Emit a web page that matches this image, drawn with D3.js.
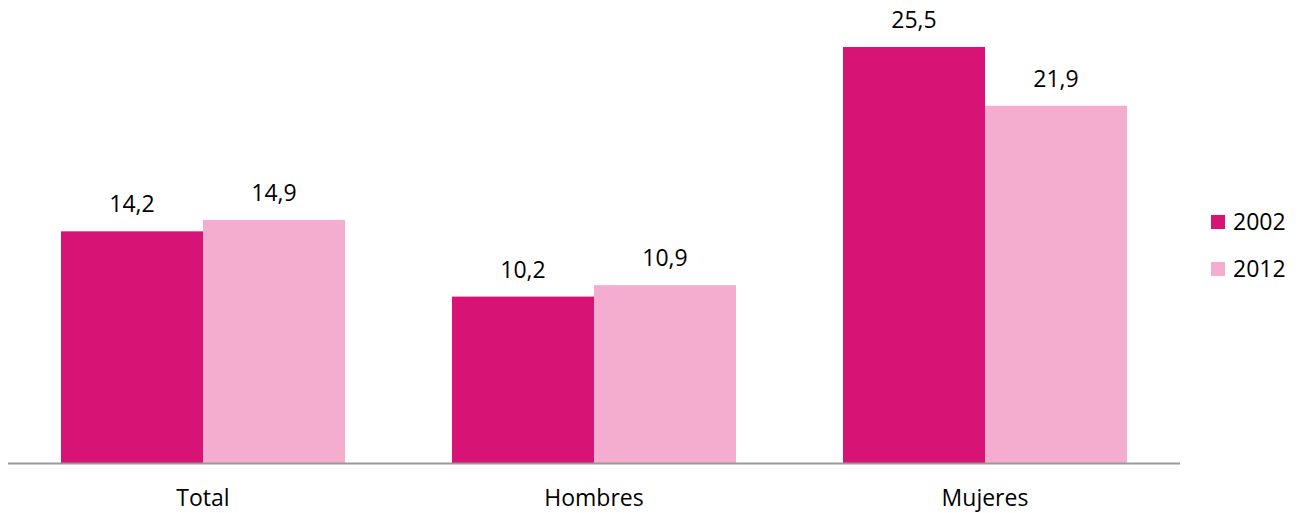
<!DOCTYPE html>
<html>
<head>
<meta charset="utf-8">
<script src="https://cdn.jsdelivr.net/npm/d3@7"></script>
<style>
  body { margin: 0; background: #fff; }
  text { font-family: "Open Sans", sans-serif; fill: #000; }
</style>
</head>
<body>
<div id="chart"></div>
<script>
const categories = ['Total', 'Hombres', 'Mujeres'];
const years = ['2002', '2012'];
const values2002 = [14.2, 10.2, 25.5];
const values2012 = [14.9, 10.9, 21.9];

const colours = ['#d81376', '#f4adcf'];

const width = 1303, height = 513;
const baseline = 463;

const svg = d3.select('#chart').append('svg')
    .attr('width', width)
    .attr('height', height);

// outer band per category, inner band per year
const x0 = d3.scaleBand()
    .domain(categories)
    .range([7.5, 1180.5])
    .paddingInner(0.2737)
    .paddingOuter(0.2737 / 2);

const x1 = d3.scaleBand()
    .domain(years)
    .range([0, x0.bandwidth()]);

const y = d3.scaleLinear()
    .domain([0, 25.5])
    .range([baseline, 47]);

const rows = categories.map((c, i) => ({
  category: c,
  values: [
    {year: years[0], value: values2002[i]},
    {year: years[1], value: values2012[i]}
  ]
}));

const colour = d3.scaleOrdinal().domain(years).range(colours);
const fmt = v => d3.format('.1f')(v).replace('.', ',');

const groups = svg.append('g')
  .selectAll('g')
    .data(rows)
  .enter().append('g')
    .attr('transform', d => 'translate(' + x0(d.category) + ',0)');

groups.selectAll('rect')
    .data(d => d.values)
  .enter().append('rect')
    .attr('x', d => x1(d.year))
    .attr('y', d => y(d.value))
    .attr('width', x1.bandwidth())
    .attr('height', d => baseline - y(d.value))
    .style('fill', d => colour(d.year));

groups.selectAll('text.value')
    .data(d => d.values)
  .enter().append('text')
    .attr('class', 'value')
    .attr('x', d => x1(d.year) + x1.bandwidth() / 2)
    .attr('y', d => y(d.value) - 19)
    .attr('text-anchor', 'middle')
    .style('font-size', '23px')
    .text(d => fmt(d.value));

// baseline axis
svg.append('line')
    .attr('x1', 8)
    .attr('x2', 1180)
    .attr('y1', baseline + 0.5)
    .attr('y2', baseline + 0.5)
    .style('stroke', '#999')
    .style('stroke-width', 2);

svg.append('g')
  .selectAll('text')
    .data(categories)
  .enter().append('text')
    .attr('x', d => x0(d) + x0.bandwidth() / 2)
    .attr('y', 506)
    .attr('text-anchor', 'middle')
    .style('font-size', '23px')
    .text(d => d);

// legend
const legend = svg.append('g')
    .attr('transform', 'translate(1211,215)');

const item = legend.selectAll('g')
    .data(years)
  .enter().append('g')
    .attr('transform', (d, i) => 'translate(0,' + i * 47 + ')');

item.append('rect')
    .attr('width', 14)
    .attr('height', 14)
    .style('fill', d => colour(d));

item.append('text')
    .attr('x', 22)
    .attr('y', 15)
    .style('font-size', '23px')
    .text(d => d);
</script>
</body>
</html>
